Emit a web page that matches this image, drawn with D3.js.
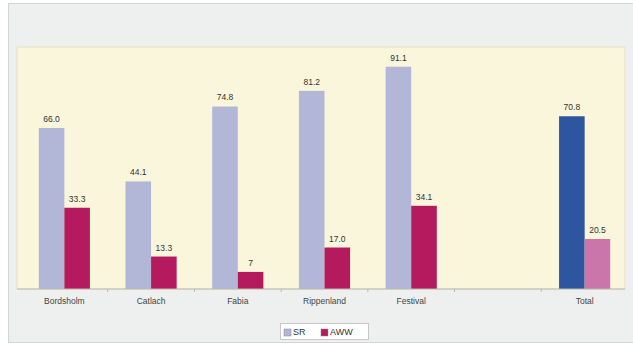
<!DOCTYPE html>
<html>
<head>
<meta charset="utf-8">
<script src="https://cdn.jsdelivr.net/npm/d3@7"></script>
<style>
  body { margin: 0; background: #ffffff; }
  svg { display: block; font-family: "Liberation Sans", Arial, sans-serif; }
</style>
</head>
<body>
<svg id="chart" width="633" height="346"></svg>
<script>
var categories = ["Bordsholm", "Catlach", "Fabia", "Rippenland", "Festival", "", "Total"];
var seriesNames = ["SR", "AWW"];
var srValues = [66.0, 44.1, 74.8, 81.2, 91.1, null, 70.8];
var awwValues = [33.3, 13.3, 7, 17.0, 34.1, null, 20.5];
var srLabels = ["66.0", "44.1", "74.8", "81.2", "91.1", "", "70.8"];
var awwLabels = ["33.3", "13.3", "7", "17.0", "34.1", "", "20.5"];

var colours = { SR: "#b3b7d7", AWW: "#b51a5f" };
var totalColours = { SR: "#2e55a0", AWW: "#cb76aa" };

var svg = d3.select("#chart");

// outer panel
svg.append("rect")
    .attr("x", 8.5).attr("y", 3.5)
    .attr("width", 640).attr("height", 339)
    .attr("fill", "#eef0ef")
    .attr("stroke", "#d4d6d6");

var plot = { left: 17, right: 625, top: 47, bottom: 289 };

svg.append("rect")
    .attr("x", plot.left).attr("y", plot.top)
    .attr("width", plot.right - plot.left)
    .attr("height", plot.bottom - plot.top)
    .attr("fill", "#faf6dc")
    .attr("stroke", "#e4e0c8");

var x0 = d3.scaleBand()
    .domain(categories.map(function(d, i) { return i; }))
    .range([21, 628])
    .paddingInner(0.41)
    .paddingOuter(0.205);

var x1 = d3.scaleBand()
    .domain(seriesNames)
    .range([0, x0.bandwidth()]);

var y = d3.scaleLinear()
    .domain([0, 100])
    .range([plot.bottom, plot.bottom - 244]);

var rows = categories.map(function(c, i) {
    return [
        { key: "SR", value: srValues[i], label: srLabels[i], total: c === "Total" },
        { key: "AWW", value: awwValues[i], label: awwLabels[i], total: c === "Total" }
    ];
});

var groups = svg.selectAll(".group")
    .data(rows)
  .enter()
    .append("g")
    .attr("class", "group")
    .attr("transform", function(d, i) { return "translate(" + x0(i) + ",0)"; });

var bars = groups.selectAll(".bar")
    .data(function(d) { return d.filter(function(e) { return e.value !== null; }); })
  .enter();

bars.append("rect")
    .attr("class", "bar")
    .attr("x", function(d) { return x1(d.key); })
    .attr("y", function(d) { return y(d.value); })
    .attr("width", x1.bandwidth())
    .attr("height", function(d) { return y(0) - y(d.value); })
    .attr("fill", function(d) { return d.total ? totalColours[d.key] : colours[d.key]; });

bars.append("text")
    .attr("x", function(d) { return x1(d.key) + x1.bandwidth() / 2; })
    .attr("y", function(d) { return y(d.value) - 6; })
    .attr("text-anchor", "middle")
    .attr("font-size", 8.5)
    .attr("fill", "#333")
    .text(function(d) { return d.label; });

// x axis
var xAxis = d3.axisBottom(x0)
    .tickSize(0)
    .tickPadding(9)
    .tickFormat(function(i) { return categories[i]; });

var axisG = svg.append("g")
    .attr("transform", "translate(0," + plot.bottom + ")")
    .call(xAxis);
axisG.select(".domain")
    .attr("d", "M" + plot.left + ",0H" + plot.right)
    .attr("stroke", "#b8b8b0");
axisG.selectAll("text")
    .attr("font-size", 8.5)
    .attr("fill", "#444")
    .attr("font-family", "Liberation Sans, Arial, sans-serif");

// separators between categories
var step = x0.step();
axisG.selectAll(".sep")
    .data(categories.slice(1))
  .enter()
    .append("line")
    .attr("x1", function(d, i) { return x0(i + 1) - step * 0.205; })
    .attr("x2", function(d, i) { return x0(i + 1) - step * 0.205; })
    .attr("y1", 0).attr("y2", 3)
    .attr("stroke", "#b8b8b0");

// legend
var legend = svg.append("g").attr("transform", "translate(280,323)");
legend.append("rect")
    .attr("x", 0.5).attr("y", 0.5)
    .attr("width", 88).attr("height", 16)
    .attr("fill", "#ffffff")
    .attr("stroke", "#c8c8c8");

var items = legend.selectAll(".item")
    .data(seriesNames)
  .enter()
    .append("g")
    .attr("transform", function(d, i) { return "translate(" + (4 + i * 37) + ",0)"; });
items.append("rect")
    .attr("x", 0).attr("y", 6)
    .attr("width", 7).attr("height", 7)
    .attr("fill", function(d) { return colours[d]; })
    .attr("stroke", "#888").attr("stroke-width", 0.5);
items.append("text")
    .attr("x", 9).attr("y", 11.5)
    .attr("font-size", 9)
    .attr("fill", "#333")
    .text(function(d) { return d; });
</script>
</body>
</html>
